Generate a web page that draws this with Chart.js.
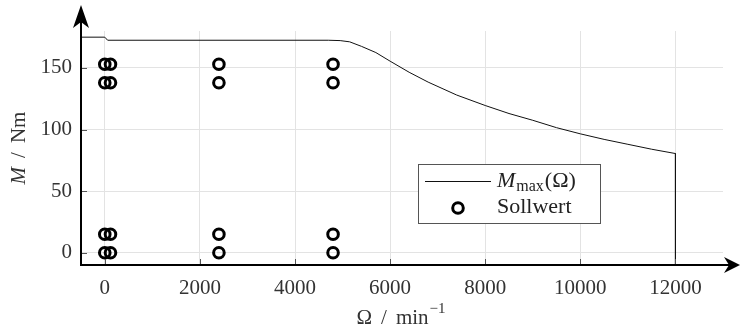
<!DOCTYPE html>
<html>
<head>
<meta charset="utf-8">
<title>M max</title>
<script src="https://cdn.jsdelivr.net/npm/chart.js@4.4.0/dist/chart.umd.min.js"></script>
<style>
    html, body { margin: 0; padding: 0; background: #fff; }
    #wrap { width: 740px; height: 328px; }
</style>
</head>
<body>
<div id="wrap"><canvas id="chart"></canvas></div>
<script>
    "use strict";

    // Data
    var lineX = [-500, 0, 60, 4700, 4950, 5150, 5400, 5700, 6000, 6400, 6800, 7400, 8000, 8500, 9000, 9500, 10000, 10500, 11000, 11500, 12000, 12000];
    var lineY = [175, 175, 172.5, 172.5, 172.2, 171.2, 167.5, 162.5, 155.5, 146.5, 138.5, 128, 119.5, 113, 107.5, 101.5, 96.5, 92, 88, 84, 80.5, -10];
    var pointX = [0, 120, 0, 120, 0, 120, 0, 120, 2400, 2400, 2400, 2400, 4800, 4800, 4800, 4800];
    var pointY = [0, 0, 15, 15, 138, 138, 153, 153, 0, 15, 138, 153, 0, 15, 138, 153];
    var xTicks = [0, 2000, 4000, 6000, 8000, 10000, 12000];
    var yTicks = [0, 50, 100, 150];

    var serif = "'Liberation Serif', 'DejaVu Serif', serif";
    Chart.defaults.font.family = serif;
    Chart.defaults.font.size = 21;
    Chart.defaults.color = "#333";

    function toXY(xs, ys) {
        return xs.map(function (x, i) { return {x: x, y: ys[i]}; });
    }

    // draw a list of [text, font, dx, dy] pieces starting at x, y
    function drawPieces(ctx, pieces, x, y) {
        pieces.forEach(function (p) {
            ctx.font = p[1];
            ctx.fillText(p[0], x + (p[2] || 0), y + (p[3] || 0));
            x += ctx.measureText(p[0]).width + (p[2] || 0);
        });
        return x;
    }

    function piecesWidth(ctx, pieces) {
        var w = 0;
        pieces.forEach(function (p) {
            ctx.font = p[1];
            w += ctx.measureText(p[0]).width + (p[2] || 0);
        });
        return w;
    }

    // Axes, arrows, titles and legend
    var decor = {
        id: "decor",
        afterDraw: function (chart) {
            var ctx = chart.ctx;
            var a = chart.chartArea;
            var sx = chart.scales.x, sy = chart.scales.y;
            var f21 = "21px " + serif, i21 = "italic 21px " + serif, f15 = "15px " + serif;
            ctx.save();

            // inner tick marks
            ctx.strokeStyle = "#555";
            ctx.lineWidth = 1;
            ctx.beginPath();
            xTicks.forEach(function (v) {
                var px = Math.round(sx.getPixelForValue(v)) + 0.5;
                ctx.moveTo(px, a.bottom); ctx.lineTo(px, a.bottom - 6);
            });
            yTicks.forEach(function (v) {
                var py = Math.round(sy.getPixelForValue(v)) + 0.5;
                ctx.moveTo(a.left, py); ctx.lineTo(a.left + 6, py);
            });
            ctx.stroke();

            // axis lines with arrows
            ctx.strokeStyle = "#000";
            ctx.fillStyle = "#000";
            ctx.lineWidth = 2;
            ctx.beginPath();
            ctx.moveTo(a.left, a.bottom); ctx.lineTo(a.left, 20);
            ctx.moveTo(a.left - 1, a.bottom); ctx.lineTo(733, a.bottom);
            ctx.stroke();
            ctx.beginPath();
            ctx.moveTo(a.left, 5); ctx.lineTo(a.left + 8, 28); ctx.lineTo(a.left, 22); ctx.lineTo(a.left - 8, 28);
            ctx.closePath(); ctx.fill();
            ctx.beginPath();
            ctx.moveTo(740, a.bottom); ctx.lineTo(724, a.bottom - 8); ctx.lineTo(729, a.bottom); ctx.lineTo(724, a.bottom + 8);
            ctx.closePath(); ctx.fill();

            // y title
            ctx.fillStyle = "#333";
            ctx.textBaseline = "alphabetic";
            var yt = [["M", i21], ["/", f21, 9], ["Nm", f21, 9]];
            ctx.save();
            ctx.translate(25, (a.top + a.bottom) / 2);
            ctx.rotate(-Math.PI / 2);
            drawPieces(ctx, yt, -piecesWidth(ctx, yt) / 2, 0);
            ctx.restore();

            // x title
            var xt = [["Ω", f21], ["/", f21, 9], ["min", f21, 9], ["−1", f15, 1, -11]];
            drawPieces(ctx, xt, 401 - piecesWidth(ctx, xt) / 2, 324);

            // legend
            ctx.fillStyle = "#fff";
            ctx.fillRect(418.5, 164.5, 182, 59);
            ctx.strokeStyle = "#555";
            ctx.lineWidth = 1;
            ctx.strokeRect(418.5, 164.5, 182, 59);
            var ds0 = chart.data.datasets[0], ds1 = chart.data.datasets[1];
            ctx.strokeStyle = ds0.borderColor;
            ctx.lineWidth = ds0.borderWidth;
            ctx.beginPath();
            ctx.moveTo(425, 181.5); ctx.lineTo(491, 181.5);
            ctx.stroke();
            ctx.strokeStyle = ds1.borderColor;
            ctx.lineWidth = ds1.borderWidth;
            ctx.beginPath();
            ctx.arc(458, 208, ds1.pointRadius, 0, Math.PI * 2);
            ctx.stroke();
            ctx.fillStyle = "#222";
            drawPieces(ctx, [["M", "italic 22px " + serif], ["max", "16px " + serif, 1, 4], ["(Ω)", "22px " + serif, 1]], 497, 187);
            drawPieces(ctx, [["Sollwert", "22px " + serif]], 497, 213);

            ctx.restore();
        }
    };

    // Chart
    var ctx1 = document.getElementById("chart").getContext("2d");
    var myChart1 = new Chart(ctx1, {
        type: "scatter",
        data: {
            datasets: [{
                label: "Mmax(Ω)",
                data: toXY(lineX, lineY),
                showLine: true,
                borderColor: "#111",
                borderWidth: 1,
                pointRadius: 0,
                tension: 0
            },
            {
                label: "Sollwert",
                data: toXY(pointX, pointY),
                borderColor: "#000",
                backgroundColor: "rgba(0,0,0,0)",
                borderWidth: 3,
                pointRadius: 5.3,
                pointHoverRadius: 5.3
            }]
        },
        options: {
            responsive: true,
            maintainAspectRatio: false,
            animation: false,
            layout: {padding: {top: 31, right: 17, left: 0, bottom: 0}},
            plugins: {
                legend: {display: false},
                tooltip: {enabled: false}
            },
            scales: {
                x: {
                    type: "linear",
                    min: -500,
                    max: 13000,
                    afterFit: function (s) { s.height = 63; },
                    afterBuildTicks: function (s) {
                        s.ticks = xTicks.map(function (v) { return {value: v}; });
                    },
                    ticks: {
                        padding: 11,
                        maxRotation: 0,
                        autoSkip: false,
                        callback: function (v) { return String(v); }
                    },
                    grid: {color: "#e3e3e3", drawTicks: false},
                    border: {display: false}
                },
                y: {
                    type: "linear",
                    min: -10,
                    max: 180,
                    afterFit: function (s) { s.width = 81; },
                    afterBuildTicks: function (s) {
                        s.ticks = yTicks.map(function (v) { return {value: v}; });
                    },
                    ticks: {
                        padding: 9,
                        callback: function (v) { return String(v); }
                    },
                    grid: {color: "#e3e3e3", drawTicks: false},
                    border: {display: false}
                }
            }
        },
        plugins: [decor]
    });
</script>
</body>
</html>
